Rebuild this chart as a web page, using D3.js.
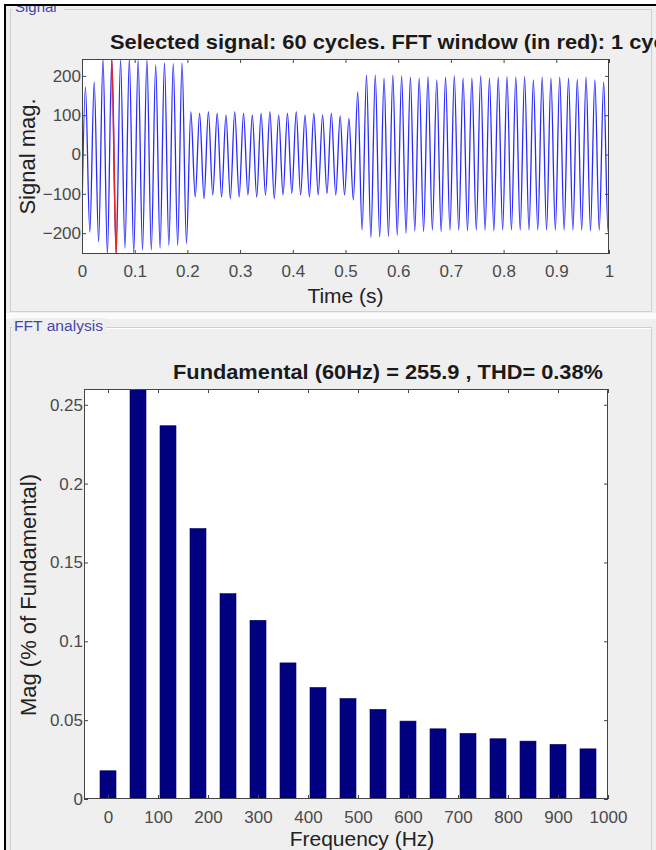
<!DOCTYPE html>
<html>
  <head>
    <meta charset="UTF-8">
    <title>FFT analysis</title>
    <style>
      body { margin: 0; background: #fff; }
      svg text { font-family: 'Liberation Sans', Arial, sans-serif; }
    </style>
  </head>
  <body>
    <div id='chart'></div>
    <script src='https://d3js.org/d3.v7.min.js'></script>
    <script>

      // ---- data ----
      const fundamentalHz = 60;
      const phase = 0.39; // fraction of a cycle where each peak sits

      // peak (max) of each of the 60 cycles
      const peaks = [
        172, 185, 243, 243, 241, 243, 240, 242, 228, 233, 231, 233,
        109, 105, 109, 105, 101, 109, 105, 101, 105, 109, 101, 105, 109, 101, 105, 101, 105, 98, 92,
        159, 202, 202, 194, 202, 200, 197, 194, 198, 190, 197, 200, 194, 194, 200,
        194, 197, 198, 197, 198, 190, 197, 194, 197, 194, 191, 197, 190, 185
      ];
      // trough (min) of each of the 60 cycles
      const troughs = [
        -197, -222, -253, -253, -238, -250, -243, -243, -238, -231, -231, -226,
        -108, -112, -103, -108, -112, -108, -103, -108, -103, -112, -103, -99, -103, -108, -103, -99, -103, -103, -116,
        -192, -211, -209, -208, -205, -200, -194, -196, -192, -196, -192, -192, -194, -192,
        -192, -194, -192, -192, -192, -192, -192, -192, -192, -192, -192, -192, -194, -192, -196
      ];
      const signalStart = -150;
      const signalEnd = -147;
      const fftWindow = [0.055, 0.0667];

      const timeTicks = [0, 0.1, 0.2, 0.3, 0.4, 0.5, 0.6, 0.7, 0.8, 0.9, 1];
      const signalTicks = [-200, -100, 0, 100, 200];

      const harmonicsHz = [0, 60, 120, 180, 240, 300, 360, 420, 480, 540, 600, 660, 720, 780, 840, 900, 960];
      const harmonicMag = [0.0179, 100, 0.2367, 0.1715, 0.1302, 0.1133, 0.0863, 0.0707, 0.0637, 0.0568,
                           0.0494, 0.0445, 0.0416, 0.0382, 0.0367, 0.0346, 0.0318];
      const freqTicks = [0, 100, 200, 300, 400, 500, 600, 700, 800, 900, 1000];
      const magTicks = [0, 0.05, 0.1, 0.15, 0.2, 0.25];

      // ---- page ----
      const width = 656;
      const height = 850;

      const svg = d3.select('#chart')
        .append('svg')
        .attr('width', width)
        .attr('height', height);

      svg.append('rect').attr('width', width).attr('height', height).attr('fill', '#fff');
      svg.append('rect')
        .attr('x', 5).attr('y', 5)
        .attr('width', width - 5).attr('height', height - 5)
        .attr('fill', '#efefef');

      // panels
      svg.append('rect')
        .attr('x', 10.5).attr('y', 9.5).attr('width', 641).attr('height', 302)
        .attr('fill', 'none').attr('stroke', '#cfcfcf');
      svg.append('rect')
        .attr('x', 5).attr('y', 313).attr('width', width - 5).attr('height', 6)
        .attr('fill', '#fbfbfb');
      svg.append('rect')
        .attr('x', 10.5).attr('y', 327.5).attr('width', 641).attr('height', 540)
        .attr('fill', 'none').attr('stroke', '#cfcfcf');
      svg.append('line')
        .attr('x1', 11).attr('x2', 651).attr('y1', 328.5).attr('y2', 328.5)
        .attr('stroke', '#fff');

      svg.append('rect').attr('x', 12).attr('y', 318).attr('width', 94).attr('height', 16).attr('fill', '#efefef');
      svg.append('text')
        .attr('x', 14).attr('y', 331)
        .attr('font-size', 14)
        .attr('fill', '#4646a8')
        .attr('textLength', 89)
        .attr('lengthAdjust', 'spacingAndGlyphs')
        .text('FFT analysis');

      svg.append('rect').attr('x', 12).attr('y', 4).attr('width', 52).attr('height', 12).attr('fill', '#efefef');
      svg.append('text')
        .attr('x', 15).attr('y', 12)
        .attr('font-size', 15)
        .attr('fill', '#4646a8')
        .text('Signal');

      // ---- top: signal ----
      const sig = { left: 82, right: 609, top: 59, bottom: 254 };

      const points = [{ t: 0, v: signalStart }];
      peaks.forEach((p, k) => {
        points.push({ t: (k + phase) / fundamentalHz, v: p });
        points.push({ t: (k + phase + 0.5) / fundamentalHz, v: troughs[k] });
      });
      points.push({ t: 1, v: signalEnd });

      const xT = d3.scaleLinear().domain([0, 1]).range([sig.left, sig.right]);
      const yS = d3.scaleLinear()
        .domain(d3.extent(peaks.concat(troughs)))
        .range([sig.bottom, sig.top]);

      svg.append('rect')
        .attr('x', sig.left).attr('y', sig.top)
        .attr('width', sig.right - sig.left).attr('height', sig.bottom - sig.top)
        .attr('fill', '#fff');

      svg.append('clipPath').attr('id', 'clip-sig')
        .append('rect')
        .attr('x', sig.left).attr('y', sig.top)
        .attr('width', sig.right - sig.left).attr('height', sig.bottom - sig.top);

      svg.append('clipPath').attr('id', 'clip-win')
        .append('rect')
        .attr('x', xT(fftWindow[0])).attr('y', sig.top)
        .attr('width', xT(fftWindow[1]) - xT(fftWindow[0])).attr('height', sig.bottom - sig.top);

      const line = d3.line()
        .x((d) => xT(d.t))
        .y((d) => yS(d.v))
        .curve(d3.curveMonotoneX);

      svg.append('path')
        .datum(points)
        .attr('clip-path', 'url(#clip-sig)')
        .attr('fill', 'none')
        .attr('stroke', '#2a2aff')
        .attr('stroke-width', 1.3)
        .attr('d', line);

      svg.append('path')
        .datum(points)
        .attr('clip-path', 'url(#clip-win)')
        .attr('fill', 'none')
        .attr('stroke', '#e8261e')
        .attr('stroke-width', 1.6)
        .attr('d', line);

      const axisColor = '#444';
      const tickColor = '#4a4a4a';

      const styleAxis = (g) => {
        g.select('.domain').remove();
        g.selectAll('line').attr('stroke', axisColor);
        g.selectAll('text').attr('fill', tickColor).attr('font-size', 17)
          .attr('font-family', "'Liberation Sans', Arial, sans-serif");
      };

      svg.append('g')
        .attr('transform', `translate(0,${sig.bottom})`)
        .call(d3.axisBottom(xT).tickValues(timeTicks).tickSize(-4).tickPadding(11).tickFormat(d3.format('')))
        .call(styleAxis);
      svg.append('g')
        .attr('transform', `translate(0,${sig.top})`)
        .call(d3.axisTop(xT).tickValues(timeTicks).tickSize(-4).tickFormat(''))
        .call(styleAxis);
      svg.append('g')
        .attr('transform', `translate(${sig.left},0)`)
        .call(d3.axisLeft(yS).tickValues(signalTicks).tickSize(-4).tickPadding(1))
        .call(styleAxis);
      svg.append('g')
        .attr('transform', `translate(${sig.right},0)`)
        .call(d3.axisRight(yS).tickValues(signalTicks).tickSize(-4).tickFormat(''))
        .call(styleAxis);

      svg.append('rect')
        .attr('x', sig.left + 0.5).attr('y', sig.top + 0.5)
        .attr('width', sig.right - sig.left - 1).attr('height', sig.bottom - sig.top - 1)
        .attr('fill', 'none').attr('stroke', axisColor);

      svg.append('text')
        .attr('x', 110).attr('y', 49)
        .attr('font-size', 21).attr('font-weight', 'bold').attr('fill', '#1a1a1a')
        .attr('textLength', 586)
        .attr('lengthAdjust', 'spacingAndGlyphs')
        .text('Selected signal: 60 cycles. FFT window (in red): 1 cycles');

      svg.append('text')
        .attr('transform', `translate(35,${(sig.top + sig.bottom) / 2}) rotate(-90)`)
        .attr('text-anchor', 'middle')
        .attr('font-size', 22).attr('fill', '#222')
        .text('Signal mag.');

      svg.append('text')
        .attr('x', (sig.left + sig.right) / 2).attr('y', 303)
        .attr('text-anchor', 'middle')
        .attr('font-size', 21).attr('fill', '#222')
        .text('Time (s)');

      // ---- bottom: FFT bars ----
      const fft = { left: 84, right: 608, top: 389, bottom: 799 };
      const barWidthHz = 32;

      const xF = d3.scaleLinear().domain([-48, 1000]).range([fft.left, fft.right]);
      const yM = d3.scaleLinear().domain([0, 0.26]).range([fft.bottom, fft.top]);

      svg.append('rect')
        .attr('x', fft.left).attr('y', fft.top)
        .attr('width', fft.right - fft.left).attr('height', fft.bottom - fft.top)
        .attr('fill', '#fff');

      svg.append('clipPath').attr('id', 'clip-fft')
        .append('rect')
        .attr('x', fft.left).attr('y', fft.top)
        .attr('width', fft.right - fft.left).attr('height', fft.bottom - fft.top);

      const bw = xF(barWidthHz) - xF(0);
      svg.append('g')
        .attr('clip-path', 'url(#clip-fft)')
        .selectAll('rect')
        .data(harmonicsHz)
        .enter().append('rect')
        .attr('x', (d) => xF(d) - bw / 2)
        .attr('width', bw)
        .attr('y', (d, i) => yM(harmonicMag[i]))
        .attr('height', (d, i) => yM(0) - yM(harmonicMag[i]))
        .attr('fill', '#000080')
        .attr('stroke', '#00005a')
        .attr('stroke-width', 0.6);

      svg.append('g')
        .attr('transform', `translate(0,${fft.bottom})`)
        .call(d3.axisBottom(xF).tickValues(freqTicks).tickSize(-4).tickPadding(12).tickFormat(d3.format('d')))
        .call(styleAxis);
      svg.append('g')
        .attr('transform', `translate(0,${fft.top})`)
        .call(d3.axisTop(xF).tickValues(freqTicks).tickSize(-4).tickFormat(''))
        .call(styleAxis);
      svg.append('g')
        .attr('transform', `translate(${fft.left},0)`)
        .call(d3.axisLeft(yM).tickValues(magTicks).tickSize(-4).tickPadding(1).tickFormat(d3.format('')))
        .call(styleAxis);
      svg.append('g')
        .attr('transform', `translate(${fft.right},0)`)
        .call(d3.axisRight(yM).tickValues(magTicks).tickSize(-4).tickFormat(''))
        .call(styleAxis);

      svg.append('rect')
        .attr('x', fft.left + 0.5).attr('y', fft.top + 0.5)
        .attr('width', fft.right - fft.left - 1).attr('height', fft.bottom - fft.top - 1)
        .attr('fill', 'none').attr('stroke', axisColor);

      svg.append('text')
        .attr('x', 173).attr('y', 379)
        .attr('font-size', 21).attr('font-weight', 'bold').attr('fill', '#1a1a1a')
        .attr('textLength', 430)
        .attr('lengthAdjust', 'spacingAndGlyphs')
        .text('Fundamental (60Hz) = 255.9 , THD= 0.38%');

      svg.append('text')
        .attr('transform', `translate(36,595) rotate(-90)`)
        .attr('text-anchor', 'middle')
        .attr('font-size', 22).attr('fill', '#222')
        .text('Mag (% of Fundamental)');

      svg.append('text')
        .attr('x', 362).attr('y', 846)
        .attr('text-anchor', 'middle')
        .attr('font-size', 21).attr('fill', '#222')
        .text('Frequency (Hz)');

      // black frame on the top and left edges
      svg.append('rect').attr('x', 0).attr('y', 0).attr('width', width).attr('height', 4).attr('fill', '#fff');
      svg.append('line').attr('x1', 4).attr('x2', width).attr('y1', 5).attr('y2', 5)
        .attr('stroke', '#000').attr('stroke-width', 2);
      svg.append('line').attr('x1', 5).attr('x2', 5).attr('y1', 4).attr('y2', height)
        .attr('stroke', '#000').attr('stroke-width', 2);

    </script>
  </body>
</html>
